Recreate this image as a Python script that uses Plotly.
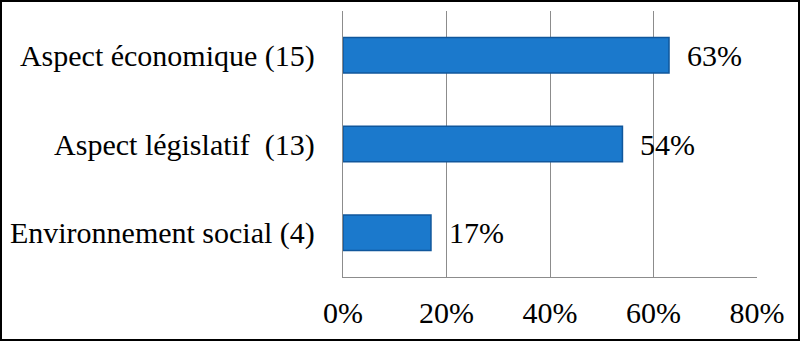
import plotly.graph_objects as go

categories = ["Aspect économique (15)", "Aspect législatif\u00a0 (13)", "Environnement social (4)"]
values = [63, 54, 17]
value_labels = ["63%", "54%", "17%"]
tick_vals = [0, 20, 40, 60, 80]
tick_text = ["0%", "20%", "40%", "60%", "80%"]

W, H = 800, 341
L, R, T, B = 343, 43, 11, 64
pw, ph = W - L - R, H - T - B
FONT = "Liberation Serif, Times New Roman, Times, serif"

fig = go.Figure()
fig.add_trace(go.Bar(
    y=categories, x=values, orientation="h",
    marker=dict(color="#1b79cc", line=dict(color="#10579c", width=1.5)),
    width=0.4, hoverinfo="skip",
))
for c, v, t in zip(categories, values, value_labels):
    fig.add_annotation(x=v, y=c, text=t, showarrow=False, xanchor="left",
                       xshift=16, font=dict(family=FONT, size=30, color="#000"))

fig.update_layout(
    width=W, height=H, margin=dict(l=L, r=R, t=T, b=B, autoexpand=False),
    paper_bgcolor="white", plot_bgcolor="white", showlegend=False,
    font=dict(family=FONT, size=30, color="#000"),
    xaxis=dict(range=[0, 80], tickvals=tick_vals, ticktext=tick_text,
               showgrid=True, gridcolor="#8c8c8c", gridwidth=1.3,
               showline=True, linecolor="#8c8c8c", linewidth=1.3,
               zeroline=False, ticks="", ticklabelstandoff=9,
               automargin=False, fixedrange=True),
    yaxis=dict(categoryorder="array", categoryarray=categories, autorange="reversed",
               showline=True, linecolor="#8c8c8c", linewidth=1.3,
               showgrid=False, ticks="", ticklabelstandoff=21,
               automargin=False, fixedrange=True),
    shapes=[dict(type="rect", xref="paper", yref="paper",
                 x0=(1 - L) / pw, x1=(W - 1 - L) / pw,
                 y0=-(B - 1) / ph, y1=(ph + T - 1) / ph,
                 line=dict(color="#000", width=2), layer="above")],
)
fig.write_html("out.html")
